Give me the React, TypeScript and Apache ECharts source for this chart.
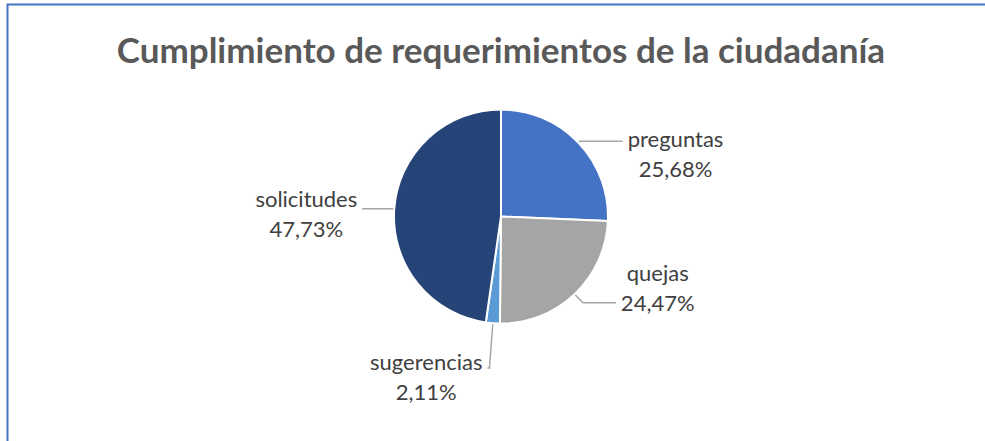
import React, { useEffect, useRef } from 'react';
import * as echarts from 'echarts';

const chartTitle = 'Cumplimiento de requerimientos de la ciudadanía';
const categories = ['preguntas', 'quejas', 'sugerencias', 'solicitudes'];
const values = [25.68, 24.47, 2.11, 47.73];
const colors = ['#4472C4', '#A5A5A5', '#5B9BD5', '#264478'];

// label line geometry per slice (first radial segment, second horizontal segment)
const lineLen1 = [2, 12, 45, 3];
const lineLen2 = [43, 33, 2, 29];
// label padding [top, bottom] to shift the two-line label relative to its line end
const labelPadTop = [24, 0, 16, 10];
const labelPadBottom = [0, 30, 0, 0];

const fmt = (v: number) => v.toFixed(2).replace('.', ',') + '%';

export default function App() {
  const ref = useRef<HTMLDivElement>(null);
  useEffect(() => {
    if (!ref.current) return;
    const chart = echarts.init(ref.current, undefined, { renderer: 'svg' });
    const data = categories.map((name, i) => ({
      name,
      value: values[i],
      itemStyle: { color: colors[i] },
      label: { padding: [labelPadTop[i], 0, labelPadBottom[i], 0] },
      labelLine: { length: lineLen1[i], length2: lineLen2[i] },
    }));
    chart.setOption({
      animation: false,
      backgroundColor: '#ffffff',
      title: {
        text: chartTitle,
        left: '50.86%',
        textAlign: 'center',
        top: 31,
        padding: 0,
        textStyle: {
          fontFamily: 'Lato',
          fontWeight: 'bold',
          fontSize: 35,
          color: '#595959',
        },
      },
      graphic: [
        {
          type: 'rect',
          shape: { x: 7.5, y: 4.5, width: 1000, height: 500 },
          style: { fill: 'none', stroke: '#4472C4', lineWidth: 2 },
          silent: true,
        },
      ],
      series: [
        {
          type: 'pie',
          center: ['50.86%', '49.1%'],
          radius: 107,
          startAngle: 90,
          clockwise: true,
          avoidLabelOverlap: false,
          itemStyle: { borderColor: '#ffffff', borderWidth: 2 },
          label: {
            show: true,
            position: 'outside',
            fontFamily: 'Lato',
            fontSize: 22,
            lineHeight: 30,
            color: '#404040',
            formatter: (p: any) => `{c|${p.name}}\n{c|${fmt(p.value)}}`,
            rich: {
              c: {
                fontFamily: 'Lato',
                fontSize: 22,
                lineHeight: 30,
                color: '#404040',
                align: 'center',
              },
            },
          },
          labelLine: {
            show: true,
            lineStyle: { color: '#A6A6A6', width: 1.5 },
          },
          emphasis: { disabled: true },
          data,
        },
      ],
    });
    return () => chart.dispose();
  }, []);
  return (
    <div
      ref={ref}
      style={{ position: 'fixed', left: 0, top: 0, width: 985, height: 441 }}
    />
  );
}
